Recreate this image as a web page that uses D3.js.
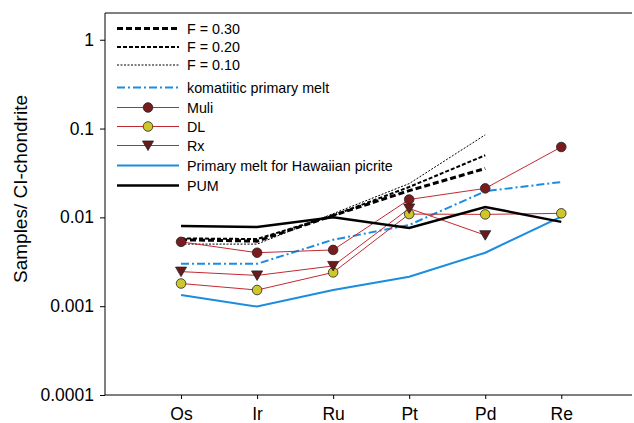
<!DOCTYPE html>
<html>
<head>
<meta charset="utf-8">
<script src="https://d3js.org/d3.v7.min.js"></script>
<style>
  body { margin: 0; background: #fff; }
  svg { font-family: Arial, "Liberation Sans", sans-serif; }
</style>
</head>
<body>
<div id="chart"></div>
<script>
var W = 634, H = 423;
var margin = { top: 13, right: 2, bottom: 28, left: 105 };

// element order on the x axis
var elements = ["Os", "Ir", "Ru", "Pt", "Pd", "Re"];
var yTicks = [0.0001, 0.001, 0.01, 0.1, 1];
var yTickLabels = ["0.0001", "0.001", "0.01", "0.1", "1"];

// values (normalised to CI chondrite)
var f30 = [0.0056, 0.0054, 0.0105, 0.0200, 0.0355];
var f20 = [0.0058, 0.0057, 0.0105, 0.0220, 0.050];
var f10 = [0.0050, 0.0050, 0.0110, 0.0240, 0.085];
var komatiite = [0.0030, 0.0030, 0.0056, 0.0082, 0.0197, 0.025];
var muli = [0.0053, 0.0040, 0.0043, 0.0159, 0.0212, 0.062];
var dl = [0.0018, 0.00152, 0.0024, 0.0109, 0.0108, 0.0111];
var rx = [0.00245, 0.00222, 0.00284, 0.0126, 0.0063];
var hawaii = [0.00134, 0.00099, 0.00152, 0.00215, 0.0040, 0.0102];
var pum = [0.0080, 0.0078, 0.0100, 0.0076, 0.0131, 0.0089];

var red = "#c22a32";

var series = [
  { name: "F = 0.30", values: f30, color: "#000", width: 3, dash: "6,3" },
  { name: "F = 0.20", values: f20, color: "#000", width: 2, dash: "4,2" },
  { name: "F = 0.10", values: f10, color: "#000", width: 1, dash: "2,1.5" },
  { name: "komatiitic primary melt", values: komatiite, color: "#1b8de0", width: 2, dash: "8,3,2,3" },
  { name: "Muli", values: muli, color: red, width: 1, marker: "circle", fill: "#7a1b1d" },
  { name: "DL", values: dl, color: red, width: 1, marker: "circle", fill: "#cfc62a" },
  { name: "Rx", values: rx, color: red, width: 1, marker: "triangle", fill: "#6a1a1a" },
  { name: "Primary melt for Hawaiian picrite", values: hawaii, color: "#1b8de0", width: 2 },
  { name: "PUM", values: pum, color: "#000", width: 2.5 }
];

var svg = d3.select("#chart").append("svg")
  .attr("width", W).attr("height", H);

var x = d3.scaleLinear().domain([0, 6.93]).range([margin.left, W - margin.right]);
var y = d3.scaleLog().domain([0.0001, 2]).range([H - margin.bottom, margin.top]);

// frame: left, top, bottom
svg.append("path")
  .attr("d", "M" + x.range()[1] + "," + y.range()[1] + " H" + x.range()[0] + " V" + y.range()[0] + " H" + x.range()[1])
  .attr("fill", "none").attr("stroke", "#000").attr("stroke-width", 1);

var xAxis = svg.append("g")
  .attr("transform", "translate(0," + y.range()[0] + ")")
  .call(d3.axisBottom(x).tickValues(d3.range(1, elements.length + 1))
    .tickFormat(function (d) { return elements[d - 1]; })
    .tickSize(4).tickPadding(9));
xAxis.select(".domain").remove();
xAxis.selectAll("text").style("font-size", "17.5px").attr("fill", "#000");

var yAxis = svg.append("g")
  .attr("transform", "translate(" + x.range()[0] + ",0)")
  .call(d3.axisLeft(y).tickValues(yTicks)
    .tickFormat(function (d, i) { return yTickLabels[i]; })
    .tickSize(5).tickPadding(6));
yAxis.select(".domain").remove();
yAxis.selectAll("text").style("font-size", "17.5px").attr("fill", "#000");

svg.append("text")
  .attr("transform", "translate(27,189) rotate(-90)")
  .attr("text-anchor", "middle")
  .style("font-size", "19px")
  .text("Samples/ CI-chondrite");

var line = d3.line()
  .x(function (d, i) { return x(i + 1); })
  .y(function (d) { return y(d); });

var plot = svg.append("g");

series.forEach(function (s) {
  plot.append("path")
    .datum(s.values)
    .attr("d", line)
    .attr("fill", "none")
    .attr("stroke", s.color)
    .attr("stroke-width", s.width)
    .attr("stroke-dasharray", s.dash || null);
});

function drawMarker(g, s, cx, cy) {
  if (s.marker === "circle") {
    g.append("circle").attr("cx", cx).attr("cy", cy).attr("r", 4.8)
      .attr("fill", s.fill).attr("stroke", "#222").attr("stroke-width", 0.8);
  } else if (s.marker === "triangle") {
    g.append("path")
      .attr("d", "M" + (cx - 5.5) + "," + (cy - 4.5) + " L" + (cx + 5.5) + "," + (cy - 4.5) + " L" + cx + "," + (cy + 5) + " Z")
      .attr("fill", s.fill).attr("stroke", "#222").attr("stroke-width", 0.8);
  }
}

series.forEach(function (s) {
  if (!s.marker) return;
  s.values.forEach(function (v, i) {
    drawMarker(plot, s, x(i + 1), y(v));
  });
});

// legend
var legendY = [28.5, 47, 65, 87.5, 107.5, 126.5, 145.5, 165.5, 185.5];
var legend = svg.append("g");
series.forEach(function (s, i) {
  var ly = legendY[i];
  legend.append("line")
    .attr("x1", 117).attr("x2", 179).attr("y1", ly).attr("y2", ly)
    .attr("stroke", s.color)
    .attr("stroke-width", s.width)
    .attr("stroke-dasharray", s.dash || null);
  if (s.marker) drawMarker(legend, s, 148, ly);
  legend.append("text")
    .attr("x", 187).attr("y", ly + 5)
    .style("font-size", "14.3px")
    .text(s.name);
});
</script>
</body>
</html>
